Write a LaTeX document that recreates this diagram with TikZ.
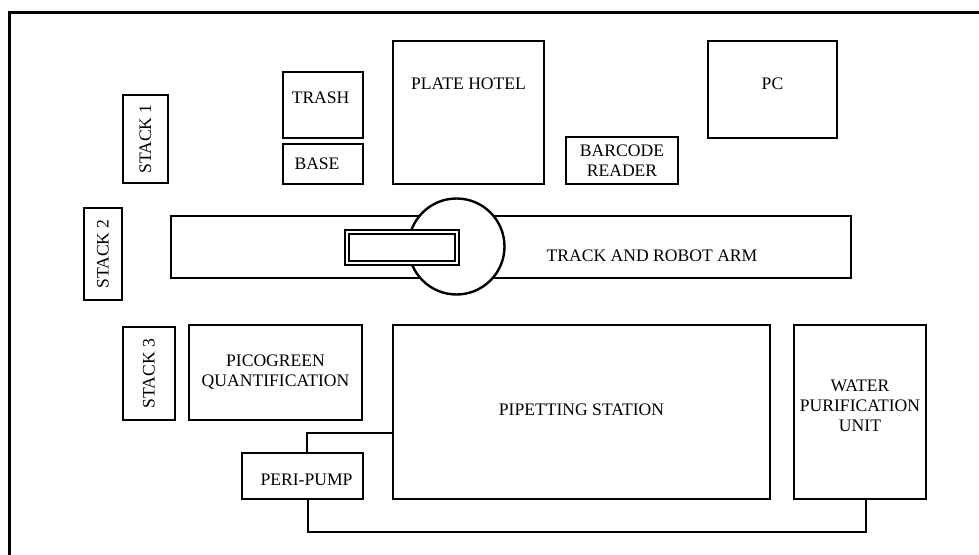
\documentclass[tikz,border=0pt]{standalone}
\usepackage{fontspec}
\setmainfont{Liberation Serif}
\usetikzlibrary{fit,positioning}
\tikzset{
  unit/.style={draw,line width=1.2pt,inner sep=0pt,fill=white},
  armbox/.style={draw,double,line width=1.1pt,double distance=0.7pt,inner sep=0pt,fill=white},
  lbl/.style={font=\fontsize{8.8}{10}\selectfont,align=center,inner sep=0pt},
  pipe/.style={draw,line width=1.2pt}
}

\begin{document}
\begin{tikzpicture}[x=0.5pt,y=-0.5pt]
  \useasboundingbox (0,0) rectangle (979,555);
  \draw[line width=1.5pt] (9,560) -- (9,13) -- (985,13);

  % back row
  \node[unit,fit={(123,95) (168,183)}] (stack1) {};
  \node[lbl,rotate=90] at (stack1.center) {STACK 1};
  \node[unit,fit={(283,72) (363,138)}] (trash) {};
  \node[lbl,below=10.5pt of trash.north,xshift=-1.2pt] {TRASH};
  \node[unit,fit={(283,144) (363,184)}] (base) {};
  \node[lbl] at ([xshift=-3pt]base.center) {BASE};
  \node[unit,fit={(393,41) (544,184)}] (hotel) {};
  \node[lbl,below=19pt of hotel.north] {PLATE HOTEL};
  \node[unit,fit={(566,137) (678,184)}] (barcode) {};
  \node[lbl] at (barcode.center) {BARCODE\\READER};
  \node[unit,fit={(708,41) (837,138)}] (pc) {};
  \node[lbl,below=19pt of pc.north] {PC};

  % track with robot arm
  \node[unit,fit={(84,208) (122,300)}] (stack2) {};
  \node[lbl,rotate=90] at (stack2.center) {STACK 2};
  \node[unit,fit={(171,216) (851,278)}] (track) {};
  \node[lbl] at (652,256) {TRACK AND ROBOT ARM};
  \node[unit,circle,minimum size=48pt] (hub) at (456.5,246.5) {};
  \node[armbox,fit={(347,232) (457,263)}] (arm) {};

  % front row
  \node[unit,fit={(123,327) (175,420)}] (stack3) {};
  \node[lbl,rotate=90] at (stack3.center) {STACK 3};
  \node[unit,fit={(189,325) (362,420)}] (pico) {};
  \node[lbl] at (pico.center) {PICOGREEN\\QUANTIFICATION};
  \node[unit,fit={(393,325) (770,499)}] (pipet) {};
  \node[lbl] at ([yshift=1pt]pipet.center) {PIPETTING STATION};
  \node[unit,fit={(794,325) (926,499)}] (water) {};
  \node[lbl] at ([yshift=3pt]water.center) {WATER\\PURIFICATION\\UNIT};
  \node[unit,fit={(242,453) (363,499)}] (peri) {};
  \node[lbl] at ([yshift=-2pt,xshift=2pt]peri.center) {PERI-PUMP};

  % tubing
  \draw[pipe] ([xshift=2.2pt]peri.north) |- ([yshift=-10.5pt]pipet.west);
  \draw[pipe] ([xshift=2.8pt]peri.south) -- ++(0,32) -| ([xshift=3pt]water.south);
\end{tikzpicture}
\end{document}
